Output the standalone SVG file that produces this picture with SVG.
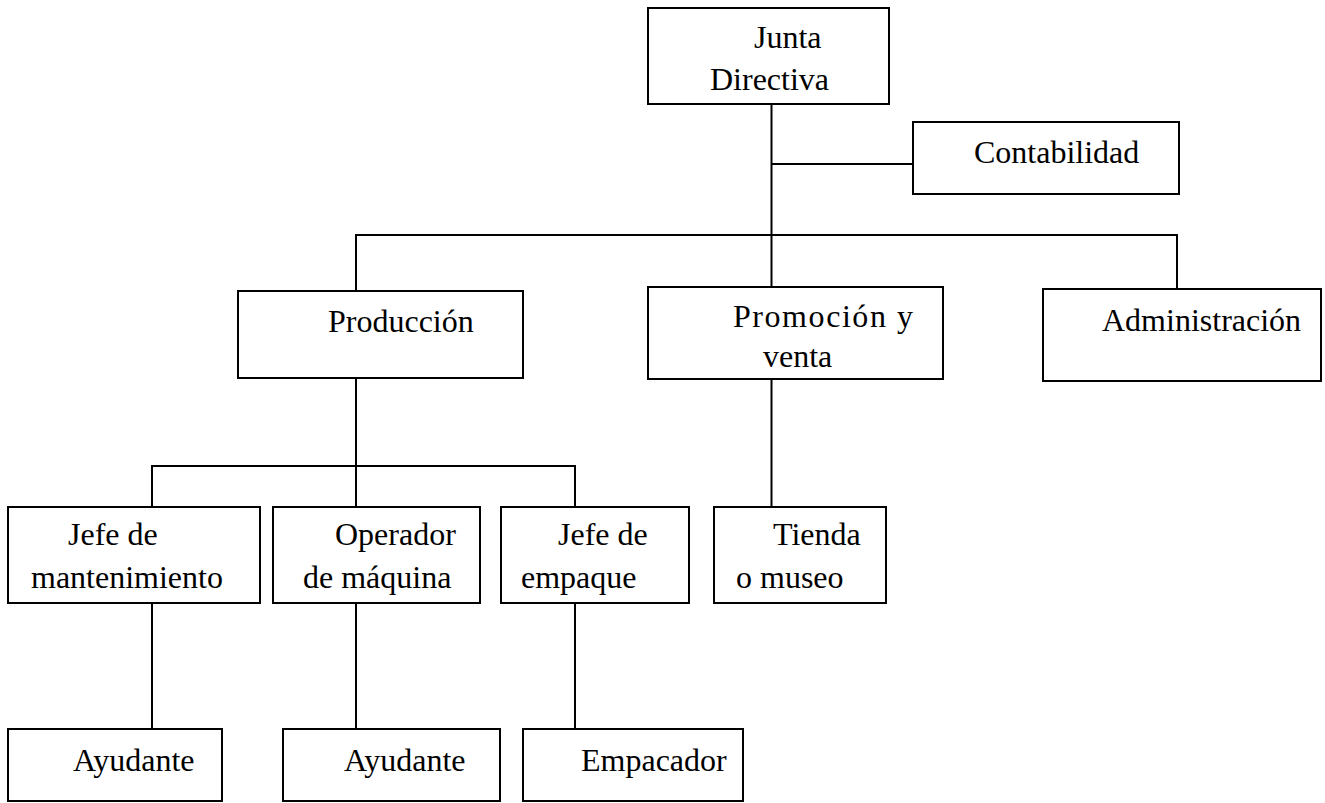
<svg xmlns="http://www.w3.org/2000/svg" width="1325" height="803" viewBox="0 0 1325 803">
<style>
rect{fill:#fff;stroke:#000;stroke-width:2}
.c line{stroke:#000;stroke-width:2}
text{font-family:"Liberation Serif","Times New Roman",serif;font-size:32px;fill:#000}
</style>
<rect x="0" y="0" width="1325" height="803" style="stroke:none"/>
<g class="c" id="connectors">
<line x1="771.5" y1="104" x2="771.5" y2="287"/>
<line x1="771.5" y1="164" x2="913" y2="164"/>
<line x1="356" y1="235" x2="1177" y2="235"/>
<line x1="356" y1="234" x2="356" y2="291"/>
<line x1="1177" y1="234" x2="1177" y2="289"/>
<line x1="356" y1="378" x2="356" y2="507"/>
<line x1="152" y1="466" x2="575" y2="466"/>
<line x1="152" y1="465" x2="152" y2="507"/>
<line x1="575" y1="465" x2="575" y2="507"/>
<line x1="771.5" y1="379" x2="771.5" y2="507"/>
<line x1="152" y1="602" x2="152" y2="729"/>
<line x1="356" y1="602" x2="356" y2="729"/>
<line x1="575" y1="602" x2="575" y2="729"/>
</g>
<g id="junta"><rect x="648" y="8" width="241" height="96"/><text x="754" y="48">Junta</text><text x="710" y="90">Directiva</text></g>
<g id="contabilidad"><rect x="913" y="122" width="266" height="72"/><text x="974" y="163">Contabilidad</text></g>
<g id="produccion"><rect x="238" y="291" width="285" height="87"/><text x="328" y="332">Producción</text></g>
<g id="promocion"><rect x="648" y="287" width="295" height="92"/><text x="733" y="327" textLength="180" lengthAdjust="spacing">Promoción y</text><text x="763" y="367">venta</text></g>
<g id="administracion"><rect x="1043" y="289" width="278" height="92"/><text x="1102" y="331">Administración</text></g>
<g id="jefe-mant"><rect x="8" y="507" width="252" height="96"/><text x="68" y="545">Jefe de</text><text x="31" y="588">mantenimiento</text></g>
<g id="operador"><rect x="273" y="507" width="207" height="96"/><text x="335" y="545">Operador</text><text x="303" y="588">de máquina</text></g>
<g id="jefe-emp"><rect x="501" y="507" width="188" height="96"/><text x="558" y="545">Jefe de</text><text x="521" y="588">empaque</text></g>
<g id="tienda"><rect x="714" y="507" width="172" height="96"/><text x="773" y="545">Tienda</text><text x="736" y="588">o museo</text></g>
<g id="ayudante1"><rect x="8" y="729" width="214" height="72"/><text x="73" y="771">Ayudante</text></g>
<g id="ayudante2"><rect x="283" y="729" width="217" height="72"/><text x="344" y="771">Ayudante</text></g>
<g id="empacador"><rect x="523" y="729" width="220" height="72"/><text x="581" y="771">Empacador</text></g>
</svg>
